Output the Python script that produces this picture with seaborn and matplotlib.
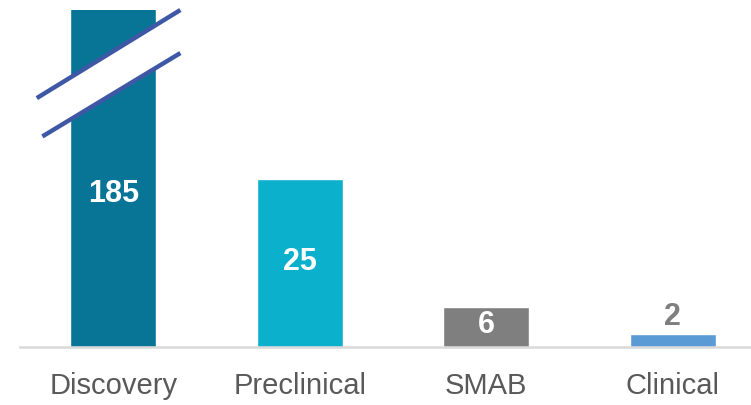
import matplotlib
matplotlib.use("Agg")
import matplotlib.pyplot as plt
import seaborn as sns
import pandas as pd

# Pipeline stages and their counts
stages = ["Discovery", "Preclinical", "SMAB", "Clinical"]
counts = [185, 25, 6, 2]
bar_colors = ["#087596", "#0bb0cd", "#7f7f7f", "#5b9bd5"]
label_colors = ["white", "white", "white", "#7f7f7f"]

sns.set_theme(style="white")
plt.rcParams["font.family"] = ["Liberation Sans", "DejaVu Sans"]

df = pd.DataFrame({"stage": stages, "count": counts})

W, H = 751, 405
fig = plt.figure(figsize=(W / 100, H / 100), dpi=100)
ax = fig.add_axes([20 / W, (H - 347) / H, (W - 20) / W, 337 / H])

sns.barplot(data=df, x="stage", y="count", hue="stage", palette=bar_colors,
            legend=False, width=0.46, saturation=1, ax=ax)

ymax = 50.1
ax.set_ylim(0, ymax)
ax.set_xlim(-0.5, 3.42)

# Value labels: inside the bar when it is tall enough, above otherwise
for i, (v, c) in enumerate(zip(counts, label_colors)):
    if v > ymax:
        y = 22.8
    elif c == "white":
        y = v / 2 + 0.2
    else:
        y = v + 2.4
    ax.text(i, y, str(v), ha="center", va="center", color=c,
            fontsize=22, fontweight="bold")

# Axis break over the truncated Discovery bar
x_left, x_right = -0.41, 0.36
upper = ([x_left, x_right], [37.0, 50.1])
lower = ([x_left + 0.03, x_right], [31.3, 43.7])
ax.fill([upper[0][0], upper[0][1], lower[0][1], lower[0][0]],
        [upper[1][0], upper[1][1], lower[1][1], lower[1][0]],
        color="white", zorder=3, clip_on=False, lw=0)
for xs, ys in (upper, lower):
    ax.plot(xs, ys, color="#3f58a6", lw=3.2, zorder=4, clip_on=False,
            solid_capstyle="butt")

sns.despine(ax=ax, left=True, top=True, right=True)
ax.spines["bottom"].set_color("#d9d9d9")
ax.spines["bottom"].set_linewidth(1.8)
ax.set_yticks([])
ax.set_xlabel("")
ax.set_ylabel("")
ax.tick_params(axis="x", length=0, pad=18, labelsize=21, labelcolor="#595959")

fig.savefig("out.png", dpi=100)
